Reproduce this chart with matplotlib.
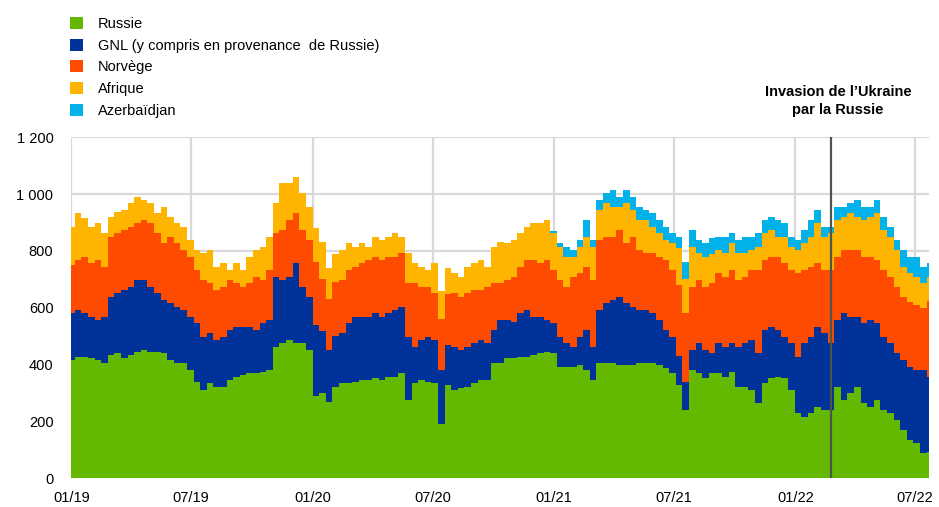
import matplotlib
matplotlib.use('Agg')
import matplotlib.pyplot as plt
import matplotlib.dates as mdates
from matplotlib.patches import Patch
import pandas as pd

plt.rcParams['font.family'] = ['Liberation Sans', 'DejaVu Sans']

# dates (one value every 10 days)
dates = pd.date_range('2019-01-01', periods=131, freq='10D')

# flux de gaz
russie = [416, 428, 428, 422, 416, 405, 434, 440, 422, 434,
          446, 452, 446, 446, 440, 416, 405, 405, 381, 340,
          311, 334, 323, 323, 346, 358, 364, 370, 370, 375,
          381, 463, 475, 487, 475, 475, 452, 290, 300, 270,
          320, 334, 334, 340, 346, 346, 352, 346, 358, 358,
          370, 276, 334, 346, 340, 334, 190, 330, 311, 317,
          323, 334, 346, 346, 405, 405, 422, 422, 428, 428,
          434, 440, 446, 440, 393, 393, 393, 399, 381, 346,
          405, 405, 405, 399, 399, 399, 405, 405, 405, 399,
          387, 370, 330, 240, 381, 370, 352, 370, 370, 358,
          375, 323, 323, 311, 264, 334, 352, 358, 352, 311,
          229, 217, 229, 252, 240, 240, 323, 276, 299, 323,
          264, 252, 276, 240, 229, 205, 170, 135, 123, 88,
          94]
gnl = [165, 164, 152, 147, 141, 164, 205, 211, 241, 240,
       252, 246, 228, 205, 187, 200, 199, 187, 188, 205,
       188, 176, 164, 176, 176, 176, 170, 164, 152, 170,
       176, 246, 223, 222, 282, 199, 187, 250, 220, 180,
       180, 176, 211, 229, 223, 223, 228, 223, 222, 234,
       234, 223, 129, 141, 159, 153, 190, 140, 152, 135,
       140, 141, 141, 129, 117, 152, 135, 129, 152, 164,
       135, 129, 111, 105, 106, 82, 70, 100, 141, 117,
       187, 211, 222, 240, 217, 205, 187, 187, 175, 158,
       135, 129, 100, 100, 71, 105, 100, 70, 105, 105,
       100, 140, 152, 176, 176, 188, 182, 164, 147, 164,
       199, 258, 270, 282, 270, 235, 234, 304, 270, 246,
       281, 305, 269, 259, 246, 235, 246, 258, 258, 293,
       264]
norvege = [170, 176, 200, 188, 211, 176, 211, 211, 211, 212,
           199, 211, 223, 211, 200, 234, 223, 212, 211, 188,
           199, 176, 176, 175, 176, 152, 140, 152, 188, 153,
           176, 153, 176, 200, 176, 200, 200, 220, 180, 180,
           190, 188, 188, 176, 188, 199, 200, 199, 200, 188,
           188, 187, 223, 187, 175, 164, 180, 180, 188, 187,
           188, 188, 176, 199, 164, 129, 141, 159, 165, 176,
           199, 188, 211, 188, 199, 199, 247, 223, 223, 235,
           246, 234, 223, 235, 211, 246, 212, 200, 212, 223,
           246, 234, 250, 240, 222, 223, 222, 246, 247, 247,
           258, 235, 235, 246, 293, 246, 246, 258, 258, 258,
           294, 258, 246, 223, 223, 258, 223, 224, 235, 235,
           235, 223, 223, 234, 235, 234, 223, 227, 229, 219,
           267]
afrique = [134, 165, 135, 129, 129, 117, 71, 76, 70, 82,
           94, 70, 71, 71, 129, 71, 70, 82, 58, 71,
           94, 118, 82, 83, 35, 71, 59, 94, 94, 117,
           117, 106, 164, 129, 129, 129, 117, 120, 130, 110,
           100, 106, 94, 70, 70, 47, 70, 70, 70, 82,
           58, 106, 71, 71, 59, 106, 100, 90, 71, 71,
           94, 94, 105, 71, 129, 147, 129, 128, 117, 118,
           129, 140, 141, 129, 117, 106, 70, 93, 105, 117,
           106, 118, 106, 82, 141, 94, 105, 117, 94, 82,
           70, 94, 130, 120, 141, 94, 106, 104, 82, 82,
           94, 94, 82, 71, 82, 94, 94, 70, 93, 82,
           82, 94, 105, 140, 117, 129, 129, 117, 129, 117,
           129, 141, 165, 141, 140, 130, 106, 102, 100, 86,
           85]
# TAP : pas de flux avant fin 2020
azerbaidjan = [0] * 73 + [8, 12, 35, 24, 23, 59, 23, 35, 35, 59,
                          35, 47, 47, 47, 35, 47, 47, 48, 35, 40,
                          60, 59, 46, 47, 55, 46, 58, 35, 46, 58,
                          46, 47, 47, 47, 59, 47, 35, 34, 47, 59,
                          47, 36, 24, 47, 35, 35, 58, 47, 35, 46,
                          47, 36, 34, 59, 58, 70, 59, 47]

labels = ['Russie', 'GNL (y compris en provenance  de Russie)', 'Norvège',
          'Afrique', 'Azerbaïdjan']
colors = ['#65b800', '#003299', '#ff4b00', '#ffb400', '#00b1ea']
invasion = pd.Timestamp('2022-02-24')

fig = plt.figure(figsize=(9.39, 5.07), dpi=100)
ax = fig.add_axes([0.0761, 0.0566, 0.9129, 0.6726])

ax.stackplot(dates, russie, gnl, norvege, afrique, azerbaidjan,
             colors=colors, step='mid', linewidth=0, zorder=2)

ax.axvline(invasion, color='#4a564c', lw=1.6, zorder=3)

ax.set_xlim(pd.Timestamp('2019-01-01'), pd.Timestamp('2022-07-22'))
ax.set_ylim(0, 1200)
ax.set_yticks(range(0, 1201, 200))
ax.set_yticklabels(['0', '200', '400', '600', '800', '1 000', '1 200'])
ax.xaxis.set_major_locator(mdates.MonthLocator(bymonth=[1, 7]))
ax.xaxis.set_major_formatter(mdates.DateFormatter('%m/%y'))

ax.grid(True, color='#d9d9d9', lw=1.6, zorder=0)
ax.set_axisbelow(True)
for s in ax.spines.values():
    s.set_visible(False)
ax.tick_params(length=0, labelsize=10.5, colors='black')
ax.tick_params(axis='y', pad=13)
ax.tick_params(axis='x', pad=9)

fig.text(838 / 939, 1 - 101 / 507, 'Invasion de l\u2019Ukraine\npar la Russie',
         ha='center', va='center', fontsize=10.5, fontweight='bold',
         linespacing=1.4)

handles = [Patch(facecolor=c, edgecolor='none') for c in colors]
fig.legend(handles, labels, loc='upper left',
           bbox_to_anchor=(64 / 939, 1 - 11 / 507),
           frameon=False, fontsize=10.5, handlelength=0.9, handleheight=0.9,
           handletextpad=1.0, labelspacing=0.52, borderaxespad=0)

plt.savefig('out.png', dpi=100)
